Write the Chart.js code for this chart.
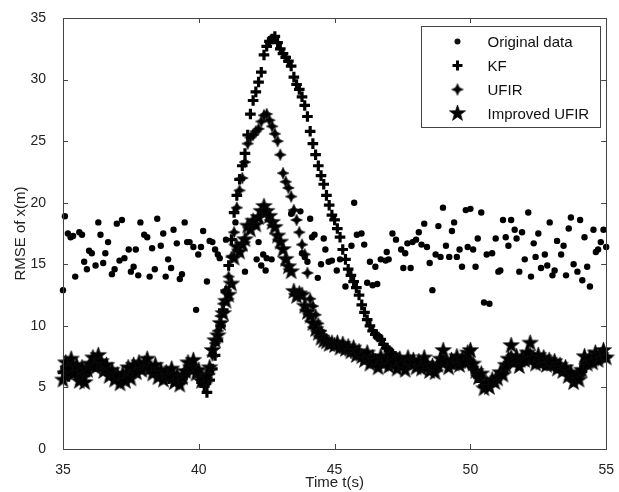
<!DOCTYPE html>
<html>
<head>
<meta charset="utf-8">
<script src="https://cdn.jsdelivr.net/npm/chart.js@4.4.1/dist/chart.umd.min.js"></script>
<style>
  body { margin: 0; background: #fff; }
  canvas { display: block; }
</style>
</head>
<body>
<canvas id="graphique-rmse" width="619" height="492"></canvas>
<script>
// grille temporelle des filtres : 35 s -> 55 s, pas de 0.1 s
const tStart = 35, tStep = 0.1;

// KF (croix)
const kfRmse = [
  6.2, 6.6, 5.9, 6.8, 6.4, 6.1, 5.8, 6.3, 6.0, 6.5,
  6.8, 7.0, 6.7, 7.1, 6.9, 6.5, 6.4, 6.1, 6.0, 5.8,
  5.7, 5.6, 5.9, 5.8, 6.1, 6.0, 6.3, 6.4, 6.6, 6.5,
  6.7, 6.8, 6.5, 6.3, 6.4, 6.0, 6.1, 5.8, 5.9, 5.7,
  5.9, 5.6, 5.8, 5.5, 5.7, 6.0, 6.4, 6.5, 6.6, 6.2,
  6.0, 5.4, 5.1, 4.6, 5.6, 6.5, 7.6, 8.8, 10.0, 11.3,
  12.8, 14.9, 17.0, 19.2, 20.6, 21.9, 23.0, 24.0, 25.5, 27.2,
  28.3, 29.0, 29.8, 30.6, 32.0, 32.7, 33.1, 33.3, 33.5, 33.0,
  32.5, 32.1, 31.8, 31.5, 31.1, 30.2, 29.6, 29.2, 28.6, 27.9,
  27.0, 25.8, 24.8, 23.9, 23.0, 22.2, 21.5, 20.6, 19.8, 19.0,
  18.6, 17.9, 17.2, 16.2, 15.4, 14.6, 14.1, 13.6, 13.1, 12.5,
  11.7, 11.1, 10.5, 10.0, 9.6, 9.3, 9.1, 8.9, 8.5, 8.2,
  8.0, 7.8, 7.5, 7.3, 7.2, 7.0, 6.9, 6.9, 7.1, 7.0,
  6.8, 6.9, 6.7, 7.0, 6.8, 6.6, 6.7, 6.5, 6.8, 7.0,
  7.2, 7.0, 6.8, 7.0, 6.9, 7.1, 6.9, 7.0, 7.1, 7.2,
  7.0, 6.6, 6.2, 5.8, 5.5, 5.1, 5.3, 5.2, 5.5, 5.6,
  5.9, 6.1, 6.3, 6.6, 7.0, 7.3, 7.1, 7.2, 7.0, 7.1,
  7.2, 7.4, 7.5, 7.2, 7.0, 7.1, 7.0, 6.9, 6.8, 6.9,
  6.8, 6.7, 6.6, 6.5, 6.4, 6.3, 6.1, 6.0, 5.8, 5.9,
  6.0, 6.3, 6.7, 6.9, 7.0, 7.1, 7.2, 7.3, 7.4, 7.5,
  7.5
];

// UFIR (losanges)
const ufirRmse = [
  6.3, 6.7, 6.1, 6.9, 6.5, 6.3, 5.9, 6.4, 5.9, 6.4,
  6.9, 7.1, 6.9, 7.2, 6.9, 6.6, 6.5, 6.2, 6.1, 5.9,
  5.8, 5.6, 5.8, 5.9, 6.2, 6.1, 6.4, 6.5, 6.7, 6.6,
  6.8, 6.9, 6.6, 6.4, 6.4, 6.1, 6.2, 5.9, 5.9, 5.8,
  6.0, 5.7, 5.8, 5.6, 5.8, 6.1, 6.5, 6.6, 6.7, 6.3,
  6.2, 5.6, 5.5, 5.8, 6.4, 7.6, 8.6, 9.6, 10.8, 11.8,
  12.9, 14.0, 15.6, 17.6, 19.6, 21.0, 22.0, 23.3, 24.8, 25.3,
  25.5, 25.8, 26.0, 26.6, 27.1, 27.2, 26.7, 26.2, 25.6, 25.0,
  23.9, 22.4, 21.7, 21.2, 20.5, 19.4, 18.6, 17.6, 16.6, 15.8,
  14.3, 12.2, 11.6, 10.9, 10.2, 9.6, 9.2, 8.9, 8.6, 8.5,
  8.4, 8.3, 8.2, 8.2, 8.0, 8.0, 7.8, 7.8, 7.6, 7.6,
  7.4, 7.3, 7.4, 7.1, 7.2, 7.0, 6.9, 7.1, 7.0, 7.1,
  6.9, 7.2, 7.0, 6.8, 7.0, 6.9, 6.7, 7.0, 6.9, 7.0,
  6.8, 6.9, 6.7, 7.0, 6.8, 6.6, 6.7, 6.5, 6.8, 7.0,
  7.3, 7.0, 6.8, 7.0, 6.9, 7.1, 6.9, 7.1, 7.0, 7.3,
  7.2, 6.7, 6.3, 5.9, 5.8, 5.2, 5.3, 5.2, 5.5, 5.5,
  5.8, 6.1, 6.2, 6.7, 7.1, 7.6, 7.1, 7.3, 6.9, 7.2,
  7.1, 7.5, 7.8, 7.2, 7.0, 7.2, 7.0, 7.1, 6.9, 7.0,
  6.8, 6.8, 6.6, 6.6, 6.4, 6.4, 6.1, 6.1, 5.8, 5.9,
  5.9, 6.3, 6.9, 6.9, 7.1, 7.0, 7.4, 7.2, 7.4, 7.6,
  7.5
];

// UFIR amélioré (étoiles)
const improvedRmse = [
  5.6, 7.0, 6.5, 7.3, 6.1, 6.8, 5.5, 6.6, 5.4, 6.4,
  6.9, 7.4, 6.6, 7.6, 7.1, 6.3, 6.8, 5.9, 6.4, 5.6,
  6.0, 5.3, 6.1, 5.5, 6.6, 5.7, 6.8, 6.2, 7.0, 6.4,
  6.9, 7.3, 6.5, 6.1, 6.8, 5.8, 6.4, 5.6, 6.2, 5.9,
  6.5, 5.4, 6.0, 5.2, 5.8, 6.3, 7.0, 6.6, 7.2, 6.1,
  6.4, 5.5, 5.6, 5.9, 6.6, 8.0, 8.8, 9.2, 10.2, 11.0,
  12.0, 12.5, 13.4, 15.5, 16.4, 16.0, 16.6, 17.0, 18.1, 17.8,
  18.5, 18.2, 18.8, 19.3, 19.7, 19.3, 18.9, 18.4, 18.0, 17.3,
  16.8, 16.2, 15.4, 14.8, 14.4, 12.8, 12.4, 12.6, 12.5, 11.6,
  11.1, 10.8, 10.2, 9.7, 9.4, 9.0, 8.8, 8.7, 8.5, 8.6,
  8.4, 8.6, 8.2, 8.5, 8.1, 8.3, 7.9, 8.2, 7.6, 7.9,
  7.5, 7.2, 7.8, 6.9, 7.4, 7.1, 6.6, 7.5, 6.9, 7.3,
  6.7, 7.6, 7.0, 6.5, 7.3, 6.8, 6.4, 7.4, 7.0, 7.2,
  6.6, 7.1, 6.5, 7.4, 6.9, 6.3, 6.7, 6.2, 6.8, 7.3,
  8.0, 7.1, 6.6, 7.2, 6.9, 7.5, 6.8, 7.3, 7.0, 7.8,
  8.0, 6.9, 6.3, 5.8, 6.1, 4.9, 5.3, 5.0, 5.6, 5.4,
  5.7, 6.2, 6.0, 6.8, 7.3, 8.4, 7.0, 7.5, 6.7, 7.4,
  7.2, 7.8, 8.6, 7.3, 6.9, 7.6, 7.0, 7.4, 6.8, 7.2,
  6.9, 7.1, 6.5, 6.8, 6.3, 6.6, 5.9, 6.2, 5.4, 5.8,
  5.6, 6.4, 7.5, 6.9, 7.4, 7.0, 7.8, 7.2, 7.6, 8.0,
  7.4
];

// données brutes (points) : instants et valeurs
const origTime = [
  35.0, 35.07, 35.18, 35.28, 35.37, 35.45, 35.6, 35.7, 35.78, 35.88,
  35.96, 36.06, 36.2, 36.3, 36.38, 36.48, 36.56, 36.66, 36.8, 36.9,
  36.98, 37.08, 37.17, 37.26, 37.42, 37.5, 37.6, 37.68, 37.77, 37.85,
  37.99, 38.1, 38.19, 38.28, 38.38, 38.47, 38.6, 38.69, 38.78, 38.87,
  38.98, 39.07, 39.19, 39.3, 39.38, 39.48, 39.57, 39.66, 39.8, 39.9,
  39.98, 40.08, 40.16, 40.3, 40.4, 40.5, 40.6, 40.7, 40.77, 41.0,
  41.35, 41.7, 42.13, 42.2, 42.3, 42.37, 42.46, 42.5, 42.68, 43.4,
  43.74, 43.8, 43.9, 44.0, 44.1, 44.17, 44.26, 44.38, 44.5, 44.6,
  44.66, 44.78, 44.9, 45.08, 45.2, 45.4, 45.62, 45.72, 45.82, 45.99,
  46.09, 46.2, 46.3, 46.4, 46.5, 46.57, 46.7, 46.88, 46.92, 46.99,
  47.13, 47.26, 47.45, 47.53, 47.6, 47.68, 47.8, 47.87, 48.0, 48.1,
  48.2, 48.3, 48.4, 48.5, 48.6, 48.72, 48.82, 48.9, 48.99, 49.1,
  49.22, 49.32, 49.4, 49.5, 49.6, 49.69, 49.83, 49.9, 50.0, 50.1,
  50.19, 50.27, 50.4, 50.5, 50.6, 50.7, 50.8, 50.93, 51.03, 51.1,
  51.2, 51.3, 51.4, 51.5, 51.63, 51.7, 51.8, 51.9, 52.0, 52.13,
  52.23, 52.33, 52.4, 52.5, 52.6, 52.74, 52.83, 52.92, 53.02, 53.1,
  53.19, 53.34, 53.43, 53.52, 53.62, 53.7, 53.8, 53.94, 54.04, 54.12,
  54.2, 54.3, 54.4, 54.53, 54.62, 54.7, 54.8, 54.9, 55.0
];
const origRmse = [
  12.9, 18.9, 17.5, 17.2, 17.3, 14.0, 17.6, 17.4, 15.2, 14.6,
  16.1, 15.9, 14.9, 18.4, 17.4, 15.1, 15.9, 16.8, 14.2, 14.6,
  18.3, 15.3, 18.6, 15.5, 16.2, 14.4, 14.8, 16.2, 14.1, 18.4,
  17.4, 17.2, 14.0, 16.3, 14.6, 18.7, 16.5, 17.5, 14.0, 15.4,
  14.7, 17.8, 16.7, 13.8, 14.2, 18.4, 16.8, 16.8, 16.4, 11.3,
  15.8, 16.4, 17.7, 13.6, 16.9, 16.8, 16.2, 15.8, 15.5, 17.0,
  18.4, 14.4, 15.4, 16.8, 14.9, 15.8, 14.5, 15.5, 15.4, 19.1,
  19.3, 15.9, 15.6, 15.2, 18.7, 17.2, 17.4, 13.9, 15.0, 17.1,
  16.2, 15.2, 15.3, 14.5, 15.4, 13.2, 16.5, 20.0, 17.4, 17.5,
  16.6, 13.5, 15.2, 13.3, 14.8, 13.4, 15.4, 15.3, 16.0, 15.4,
  17.5, 17.0, 16.2, 14.7, 15.9, 16.7, 14.7, 16.8, 17.0, 17.6,
  16.6, 18.3, 16.4, 15.1, 12.9, 15.8, 18.1, 15.6, 19.6, 16.5,
  15.6, 17.7, 18.4, 15.6, 16.2, 14.8, 19.4, 16.4, 19.5, 16.2,
  14.8, 17.1, 19.2, 11.9, 15.8, 11.8, 15.9, 17.1, 14.4, 14.5,
  18.6, 17.2, 16.5, 18.6, 17.8, 17.1, 14.4, 17.6, 15.4, 19.2,
  14.0, 16.7, 15.6, 17.5, 14.7, 15.8, 14.9, 18.4, 14.1, 14.5,
  16.9, 15.8, 16.5, 14.1, 17.9, 18.8, 15.0, 14.4, 18.6, 13.7,
  17.2, 14.8, 13.2, 17.8, 16.0, 16.2, 16.8, 17.8, 16.4
];

const xTicks = [35, 40, 45, 50, 55];
const yTicks = [0, 5, 10, 15, 20, 25, 30, 35];

const seriesLabels = ['Original data', 'KF', 'UFIR', 'Improved UFIR'];

const police = "'Liberation Sans', Arial, Helvetica, sans-serif";

// marqueurs dessinés à la main (étoile pleine, losange à 4 branches)
function creerEtoile(branches, rOut, rIn) {
  const c = document.createElement('canvas');
  const s = Math.ceil(rOut * 2 + 2);
  c.width = s; c.height = s;
  const g = c.getContext('2d');
  g.translate(s / 2, s / 2);
  g.beginPath();
  for (let i = 0; i < branches * 2; i++) {
    const r = i % 2 === 0 ? rOut : rIn;
    const a = -Math.PI / 2 + i * Math.PI / branches;
    if (i === 0) g.moveTo(r * Math.cos(a), r * Math.sin(a));
    else g.lineTo(r * Math.cos(a), r * Math.sin(a));
  }
  g.closePath();
  g.fillStyle = '#000';
  g.fill();
  g.strokeStyle = '#111';
  g.lineWidth = 0.7;
  g.stroke();
  return c;
}
const etoile = creerEtoile(5, 8.5, 3.4);
const losange = creerEtoile(4, 5.8, 2.6);

function versPoints(valeurs) {
  return valeurs.map((v, i) => ({ x: +(tStart + i * tStep).toFixed(1), y: v }));
}

const donneesBrutes = origTime.map((t, i) => ({ x: t, y: origRmse[i] }));

// axes façon MATLAB : cadre complet, graduations vers l'intérieur
const cadreGraduations = {
  id: 'cadreGraduations',
  afterDraw(chart) {
    const { ctx, chartArea: a, scales } = chart;
    ctx.save();
    ctx.strokeStyle = '#444';
    ctx.lineWidth = 1;
    ctx.strokeRect(Math.round(a.left) + 0.5, Math.round(a.top) + 0.5,
      Math.round(a.right - a.left), Math.round(a.bottom - a.top));
    ctx.beginPath();
    xTicks.forEach(v => {
      const px = Math.round(scales.x.getPixelForValue(v)) + 0.5;
      ctx.moveTo(px, a.bottom); ctx.lineTo(px, a.bottom - 5);
      ctx.moveTo(px, a.top); ctx.lineTo(px, a.top + 5);
    });
    yTicks.forEach(v => {
      const py = Math.round(scales.y.getPixelForValue(v)) + 0.5;
      ctx.moveTo(a.left, py); ctx.lineTo(a.left + 5, py);
      ctx.moveTo(a.right, py); ctx.lineTo(a.right - 5, py);
    });
    ctx.stroke();
    ctx.restore();
  }
};

// légende encadrée en haut à droite
const legendeEncadree = {
  id: 'legendeEncadree',
  afterDraw(chart) {
    const { ctx, chartArea: a } = chart;
    const w = 179, h = 101;
    const x0 = Math.round(a.right - 6 - w) + 0.5, y0 = Math.round(a.top + 8) + 0.5;
    ctx.save();
    ctx.fillStyle = '#fff';
    ctx.fillRect(x0, y0, w, h);
    ctx.strokeStyle = '#444';
    ctx.lineWidth = 1;
    ctx.strokeRect(x0, y0, w, h);
    ctx.font = '15px ' + police;
    ctx.textBaseline = 'middle';
    ctx.fillStyle = '#111';
    seriesLabels.forEach((lab, i) => {
      const cy = y0 + 15 + i * 24;
      const mx = x0 + 36;
      if (i === 0) {
        ctx.beginPath(); ctx.arc(mx, cy, 3, 0, Math.PI * 2); ctx.fill();
      } else if (i === 1) {
        ctx.save(); ctx.strokeStyle = '#000'; ctx.lineWidth = 3;
        ctx.beginPath();
        ctx.moveTo(mx - 5, cy); ctx.lineTo(mx + 5, cy);
        ctx.moveTo(mx, cy - 5); ctx.lineTo(mx, cy + 5);
        ctx.stroke(); ctx.restore();
      } else {
        const img = i === 2 ? losange : etoile;
        ctx.drawImage(img, mx - img.width / 2, cy - img.height / 2);
      }
      ctx.fillText(lab, x0 + 66, cy + 1);
    });
    ctx.restore();
  }
};

const ctx = document.getElementById('graphique-rmse').getContext('2d');
new Chart(ctx, {
  type: 'scatter',
  data: {
    // ordre MATLAB : l'étoile est tracée en dernier (au-dessus)
    datasets: [
      {
        label: seriesLabels[3],
        data: versPoints(improvedRmse),
        pointStyle: etoile,
        pointRadius: 8,
        clip: false
      },
      {
        label: seriesLabels[2],
        data: versPoints(ufirRmse),
        pointStyle: losange,
        pointRadius: 6,
        clip: false
      },
      {
        label: seriesLabels[1],
        data: versPoints(kfRmse),
        pointStyle: 'cross',
        pointRadius: 5.3,
        borderColor: '#000',
        pointBorderWidth: 3.2,
        clip: false
      },
      {
        label: seriesLabels[0],
        data: donneesBrutes,
        pointStyle: 'circle',
        pointRadius: 3.2,
        backgroundColor: '#000',
        borderColor: '#000',
        pointBorderWidth: 0,
        clip: false
      }
    ]
  },
  options: {
    responsive: false,
    animation: false,
    layout: { padding: { top: 18, right: 10, left: 0, bottom: 0 } },
    plugins: {
      legend: { display: false },
      tooltip: { enabled: false }
    },
    scales: {
      x: {
        type: 'linear',
        min: 35,
        max: 55,
        grid: { display: false },
        border: { display: false },
        ticks: { stepSize: 5, padding: 5, color: '#222', font: { family: police, size: 14 } },
        title: { display: true, text: 'Time t(s)', color: '#222', font: { family: police, size: 15 }, padding: { top: 0, bottom: 0 } },
        afterFit: s => { s.height = 43; }
      },
      y: {
        min: 0,
        max: 35,
        grid: { display: false },
        border: { display: false },
        ticks: { stepSize: 5, padding: 9, color: '#222', font: { family: police, size: 14 } },
        title: { display: true, text: 'RMSE of x(m)', color: '#222', font: { family: police, size: 15 }, padding: { top: 12, bottom: 0 } },
        afterFit: s => { s.width = 63; }
      }
    }
  },
  plugins: [cadreGraduations, legendeEncadree]
});
</script>
</body>
</html>
